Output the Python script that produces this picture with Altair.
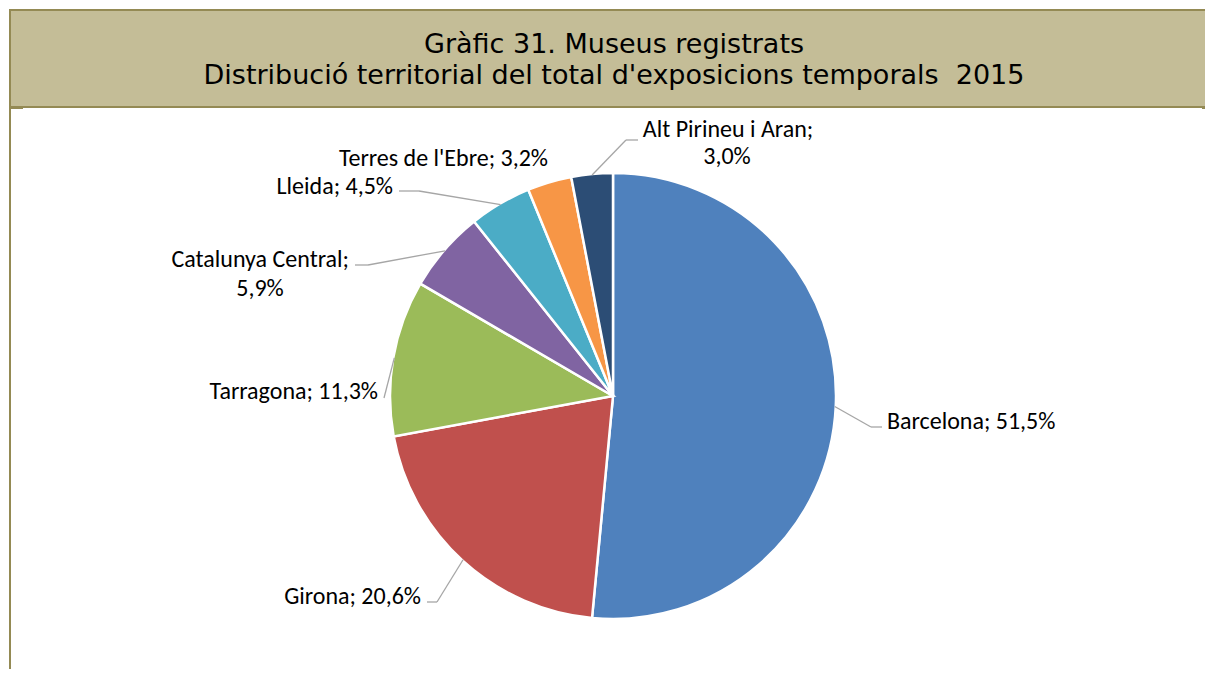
import math
import altair as alt
import pandas as pd

# ---------------- data ----------------
categories = ["Barcelona", "Girona", "Tarragona", "Catalunya Central",
              "Lleida", "Terres de l'Ebre", "Alt Pirineu i Aran"]
values = [51.5, 20.6, 11.3, 5.9, 4.5, 3.2, 3.0]
colors = ["#4F81BD", "#C0504D", "#9BBB59", "#8064A2",
          "#4BACC6", "#F79646", "#2C4D75"]
title_lines = ["Gràfic 31. Museus registrats",
               "Distribució territorial del total d'exposicions temporals\u00a0 2015"]

# ---------------- layout (chart pixels) ----------------
W, H = 1197, 661
CX, CY, R = 604, 387, 222
TITLE_H = 98

# per-label layout: leader elbow / end points and text anchors (baseline y)
label_layout = {
    "Barcelona": dict(pts=[(862, 418), (873, 418)], text=[(878, 420, "left")], split=False),
    "Girona": dict(pts=[(428, 593), (418, 593)], text=[(412, 595, "right")], split=False),
    "Tarragona": dict(pts=[(375, 389)], text=[(369, 390, "right")], split=False),
    "Catalunya Central": dict(pts=[(359, 256), (346, 256)],
                              text=[(340, 258, "right"), (251, 287, "center")], split=True),
    "Lleida": dict(pts=[(410, 182), (390, 182)], text=[(384, 185, "right")], split=False),
    "Terres de l'Ebre": dict(pts=[], text=[(539, 157, "right")], split=False),
    "Alt Pirineu i Aran": dict(pts=[(617, 131), (629, 131)],
                               text=[(719, 128, "center"), (718, 155, "center")], split=True),
}

# ---------------- tables ----------------
pie_df = pd.DataFrame({"category": categories, "value": values,
                       "idx": list(range(len(categories)))})

total = sum(values)
seg_rows, text_rows = [], []
cum = 0.0
for cat, val in zip(categories, values):
    mid = (cum + val / 2) / total * 2 * math.pi
    cum += val
    lay = label_layout[cat]
    start = (CX + R * math.sin(mid), CY - R * math.cos(mid))
    pts = [start] + lay["pts"] if lay["pts"] else []
    for a, b in zip(pts[:-1], pts[1:]):
        seg_rows.append({"x": a[0], "y": a[1], "x2": b[0], "y2": b[1]})
    label = f"{cat}; {val:.1f}%".replace(".", ",")
    parts = [f"{cat};", f"{val:.1f}%".replace(".", ",")] if lay["split"] else [label]
    for txt, (tx, ty, al) in zip(parts, lay["text"]):
        text_rows.append({"text": txt, "x": tx, "y": ty, "align": al})

seg_df = pd.DataFrame(seg_rows)
text_df = pd.DataFrame(text_rows)
one = pd.DataFrame({"a": [0]})
title_df = pd.DataFrame({"text": title_lines, "y": [44, 75]})

LABEL_FONT = "Carlito, Lato"
LABEL_SIZE = 24

# ---------------- marks ----------------
title_box = alt.Chart(one).mark_rect(color="#C4BD97").encode(
    x=alt.value(0), x2=alt.value(W), y=alt.value(0), y2=alt.value(TITLE_H))

border = pd.DataFrame({
    "x": [0, 0, 1, 0, W - 4],
    "x2": [W, W, 1, 14, W],
    "y": [1, TITLE_H, 0, TITLE_H + 1, TITLE_H + 1],
    "y2": [1, TITLE_H, H, TITLE_H + 1, TITLE_H + 1],
})
borders = alt.Chart(border).mark_rule(color="#948A54", strokeWidth=2).encode(
    x=alt.X("x:Q", scale=None), x2="x2:Q",
    y=alt.Y("y:Q", scale=None), y2="y2:Q")

title_text = alt.Chart(title_df).mark_text(
    font="DejaVu Sans", fontSize=27, color="#000000",
    align="center", baseline="alphabetic"
).encode(x=alt.value(605), y=alt.Y("y:Q", scale=None), text="text:N")

pie = alt.Chart(pie_df).mark_arc(stroke="#FFFFFF", strokeWidth=2.5).encode(
    theta=alt.Theta("value:Q", stack=True),
    color=alt.Color("category:N", scale=alt.Scale(domain=categories, range=colors), legend=None),
    order=alt.Order("idx:Q"),
    x=alt.value(CX), y=alt.value(CY), radius=alt.value(R + 1))

leaders = alt.Chart(seg_df).mark_rule(color="#A6A6A6", strokeWidth=1.3).encode(
    x=alt.X("x:Q", scale=None), x2="x2:Q",
    y=alt.Y("y:Q", scale=None), y2="y2:Q")

texts = []
for al in ["left", "right", "center"]:
    texts.append(
        alt.Chart(text_df[text_df["align"] == al]).mark_text(
            font=LABEL_FONT, fontSize=LABEL_SIZE, color="#000000",
            align=al, baseline="alphabetic"
        ).encode(x=alt.X("x:Q", scale=None), y=alt.Y("y:Q", scale=None), text="text:N")
    )

chart = alt.layer(title_box, borders, title_text, pie, leaders, *texts).properties(
    width=W, height=H, padding=0, background="#FFFFFF",
    autosize=alt.AutoSizeParams(type="fit", contains="padding"),
).configure_view(stroke=None)

chart.save("out.html", embed_options={"renderer": "svg", "actions": False})
